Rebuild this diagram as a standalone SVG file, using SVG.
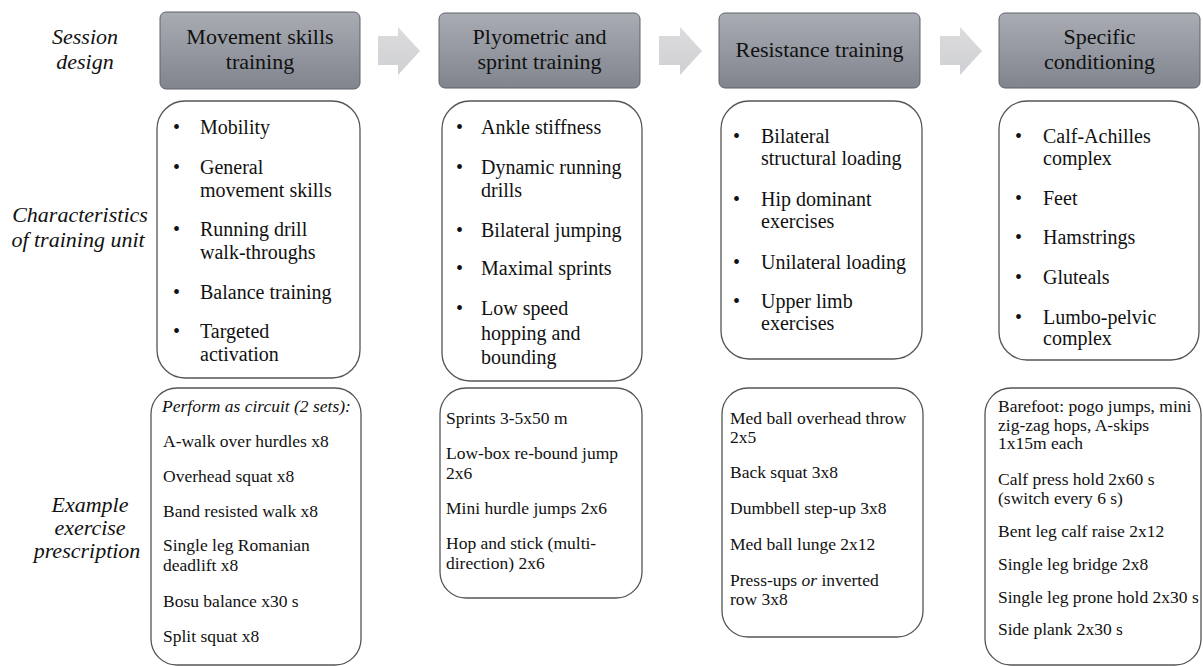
<svg xmlns="http://www.w3.org/2000/svg" width="1203" height="666" viewBox="0 0 1203 666" font-family="'Liberation Serif', 'DejaVu Serif', serif">
<defs>
<linearGradient id="hdr" x1="0" y1="0" x2="0" y2="1">
<stop offset="0" stop-color="#a9acb3"/>
<stop offset="1" stop-color="#80848d"/>
</linearGradient>
<linearGradient id="arr" x1="0" y1="0" x2="0" y2="1">
<stop offset="0" stop-color="#dcdcde"/>
<stop offset="1" stop-color="#cfd0d3"/>
</linearGradient>
<style>
text{fill:#111}
.lbl{font-size:22px;font-style:italic;text-anchor:middle}
.hdrbox{fill:url(#hdr);stroke:#5f636b;stroke-width:1}
.htxt{font-size:22px;text-anchor:middle}
.box{fill:#fff;stroke:#555;stroke-width:1.3}
.mt{font-size:20px}
.bt{font-size:17.5px}
.arrow{fill:url(#arr)}
</style>
</defs>
<rect width="1203" height="666" fill="#fff"/>

<g id="row-labels">
<text class="lbl" x="85" y="44">Session</text>
<text class="lbl" x="85" y="69">design</text>
<text class="lbl" x="80" y="222">Characteristics</text>
<text class="lbl" x="78" y="247">of training unit</text>
<text class="lbl" x="90" y="512">Example</text>
<text class="lbl" x="90" y="535">exercise</text>
<text class="lbl" x="87" y="558">prescription</text>
</g>

<g id="connectors">
<path class="arrow" d="M378,36 H398 V27 L420,51 L398,75 V65 H378 Z"/>
<path class="arrow" d="M659,36 H680 V27 L702,51 L680,75 V65 H659 Z"/>
<path class="arrow" d="M940,36 H960 V27 L982,51 L960,75 V65 H940 Z"/>
</g>

<g id="hdr1">
<rect class="hdrbox" x="160" y="12" width="200" height="77" rx="6"/>
<text class="htxt" x="260" y="44">Movement skills</text>
<text class="htxt" x="260" y="69">training</text>
</g>
<g id="hdr2">
<rect class="hdrbox" x="439" y="13" width="201" height="75" rx="6"/>
<text class="htxt" x="539.5" y="44">Plyometric and</text>
<text class="htxt" x="539.5" y="69">sprint training</text>
</g>
<g id="hdr3">
<rect class="hdrbox" x="719" y="13" width="201" height="75" rx="6"/>
<text class="htxt" x="819.5" y="57">Resistance training</text>
</g>
<g id="hdr4">
<rect class="hdrbox" x="999" y="13" width="201" height="75" rx="6"/>
<text class="htxt" x="1099.5" y="44">Specific</text>
<text class="htxt" x="1099.5" y="69">conditioning</text>
</g>

<g id="char1">
<rect class="box" x="157" y="101" width="203" height="277" rx="28"/>
<g class="mt">
<text x="173" y="134">•</text><text x="200" y="134">Mobility</text>
<text x="173" y="174">•</text><text x="200" y="174">General</text>
<text x="200" y="197">movement skills</text>
<text x="173" y="236">•</text><text x="200" y="236">Running drill</text>
<text x="200" y="259">walk-throughs</text>
<text x="173" y="299">•</text><text x="200" y="299">Balance training</text>
<text x="173" y="338">•</text><text x="200" y="338">Targeted</text>
<text x="200" y="361">activation</text>
</g>
</g>
<g id="char2">
<rect class="box" x="442" y="101" width="200" height="280" rx="28"/>
<g class="mt">
<text x="456" y="134">•</text><text x="481" y="134">Ankle stiffness</text>
<text x="456" y="174">•</text><text x="481" y="174">Dynamic running</text>
<text x="481" y="197">drills</text>
<text x="456" y="237">•</text><text x="481" y="237">Bilateral jumping</text>
<text x="456" y="275">•</text><text x="481" y="275">Maximal sprints</text>
<text x="456" y="315">•</text><text x="481" y="315">Low speed</text>
<text x="481" y="340">hopping and</text>
<text x="481" y="364">bounding</text>
</g>
</g>
<g id="char3">
<rect class="box" x="721" y="101" width="201" height="258" rx="28"/>
<g class="mt">
<text x="733" y="143">•</text><text x="761" y="143">Bilateral</text>
<text x="761" y="165">structural loading</text>
<text x="733" y="206">•</text><text x="761" y="206">Hip dominant</text>
<text x="761" y="228">exercises</text>
<text x="733" y="269">•</text><text x="761" y="269">Unilateral loading</text>
<text x="733" y="308">•</text><text x="761" y="308">Upper limb</text>
<text x="761" y="330">exercises</text>
</g>
</g>
<g id="char4">
<rect class="box" x="999" y="101" width="200" height="259" rx="28"/>
<g class="mt">
<text x="1015" y="143">•</text><text x="1043" y="143">Calf-Achilles</text>
<text x="1043" y="165">complex</text>
<text x="1015" y="205">•</text><text x="1043" y="205">Feet</text>
<text x="1015" y="244">•</text><text x="1043" y="244">Hamstrings</text>
<text x="1015" y="284">•</text><text x="1043" y="284">Gluteals</text>
<text x="1015" y="324">•</text><text x="1043" y="324">Lumbo-pelvic</text>
<text x="1043" y="345">complex</text>
</g>
</g>

<g id="ex1">
<rect class="box" x="151" y="388" width="210" height="277" rx="26"/>
<g class="bt">
<text x="162" y="412" font-style="italic">Perform as circuit (2 sets):</text>
<text x="163" y="447">A-walk  over hurdles x8</text>
<text x="163" y="482">Overhead squat x8</text>
<text x="163" y="517">Band resisted walk x8</text>
<text x="163" y="551">Single leg Romanian</text>
<text x="163" y="571">deadlift x8</text>
<text x="163" y="607">Bosu balance x30 s</text>
<text x="163" y="642">Split squat x8</text>
</g>
</g>
<g id="ex2">
<rect class="box" x="440" y="388" width="202" height="210" rx="26"/>
<g class="bt">
<text x="446" y="424">Sprints 3-5x50  m</text>
<text x="446" y="459">Low-box re-bound jump</text>
<text x="446" y="479">2x6</text>
<text x="446" y="514">Mini  hurdle jumps 2x6</text>
<text x="446" y="549">Hop and stick (multi-</text>
<text x="446" y="569">direction) 2x6</text>
</g>
</g>
<g id="ex3">
<rect class="box" x="722" y="388" width="201" height="249" rx="26"/>
<g class="bt">
<text x="730" y="424">Med ball overhead throw</text>
<text x="730" y="443">2x5</text>
<text x="730" y="478">Back squat 3x8</text>
<text x="730" y="514">Dumbbell step-up 3x8</text>
<text x="730" y="550">Med ball lunge 2x12</text>
<text x="730" y="586">Press-ups <tspan font-style="italic">or</tspan> inverted</text>
<text x="730" y="605">row 3x8</text>
</g>
</g>
<g id="ex4">
<rect class="box" x="985" y="388" width="216" height="277" rx="26"/>
<g class="bt">
<text x="998" y="412">Barefoot: pogo jumps, mini</text>
<text x="998" y="431">zig-zag  hops, A-skips</text>
<text x="998" y="449">1x15m each</text>
<text x="998" y="485">Calf press hold 2x60 s</text>
<text x="998" y="504">(switch every 6 s)</text>
<text x="998" y="537">Bent leg calf raise 2x12</text>
<text x="998" y="570">Single leg bridge 2x8</text>
<text x="998" y="603">Single leg prone hold 2x30 s</text>
<text x="998" y="635">Side plank 2x30 s</text>
</g>
</g>
</svg>
